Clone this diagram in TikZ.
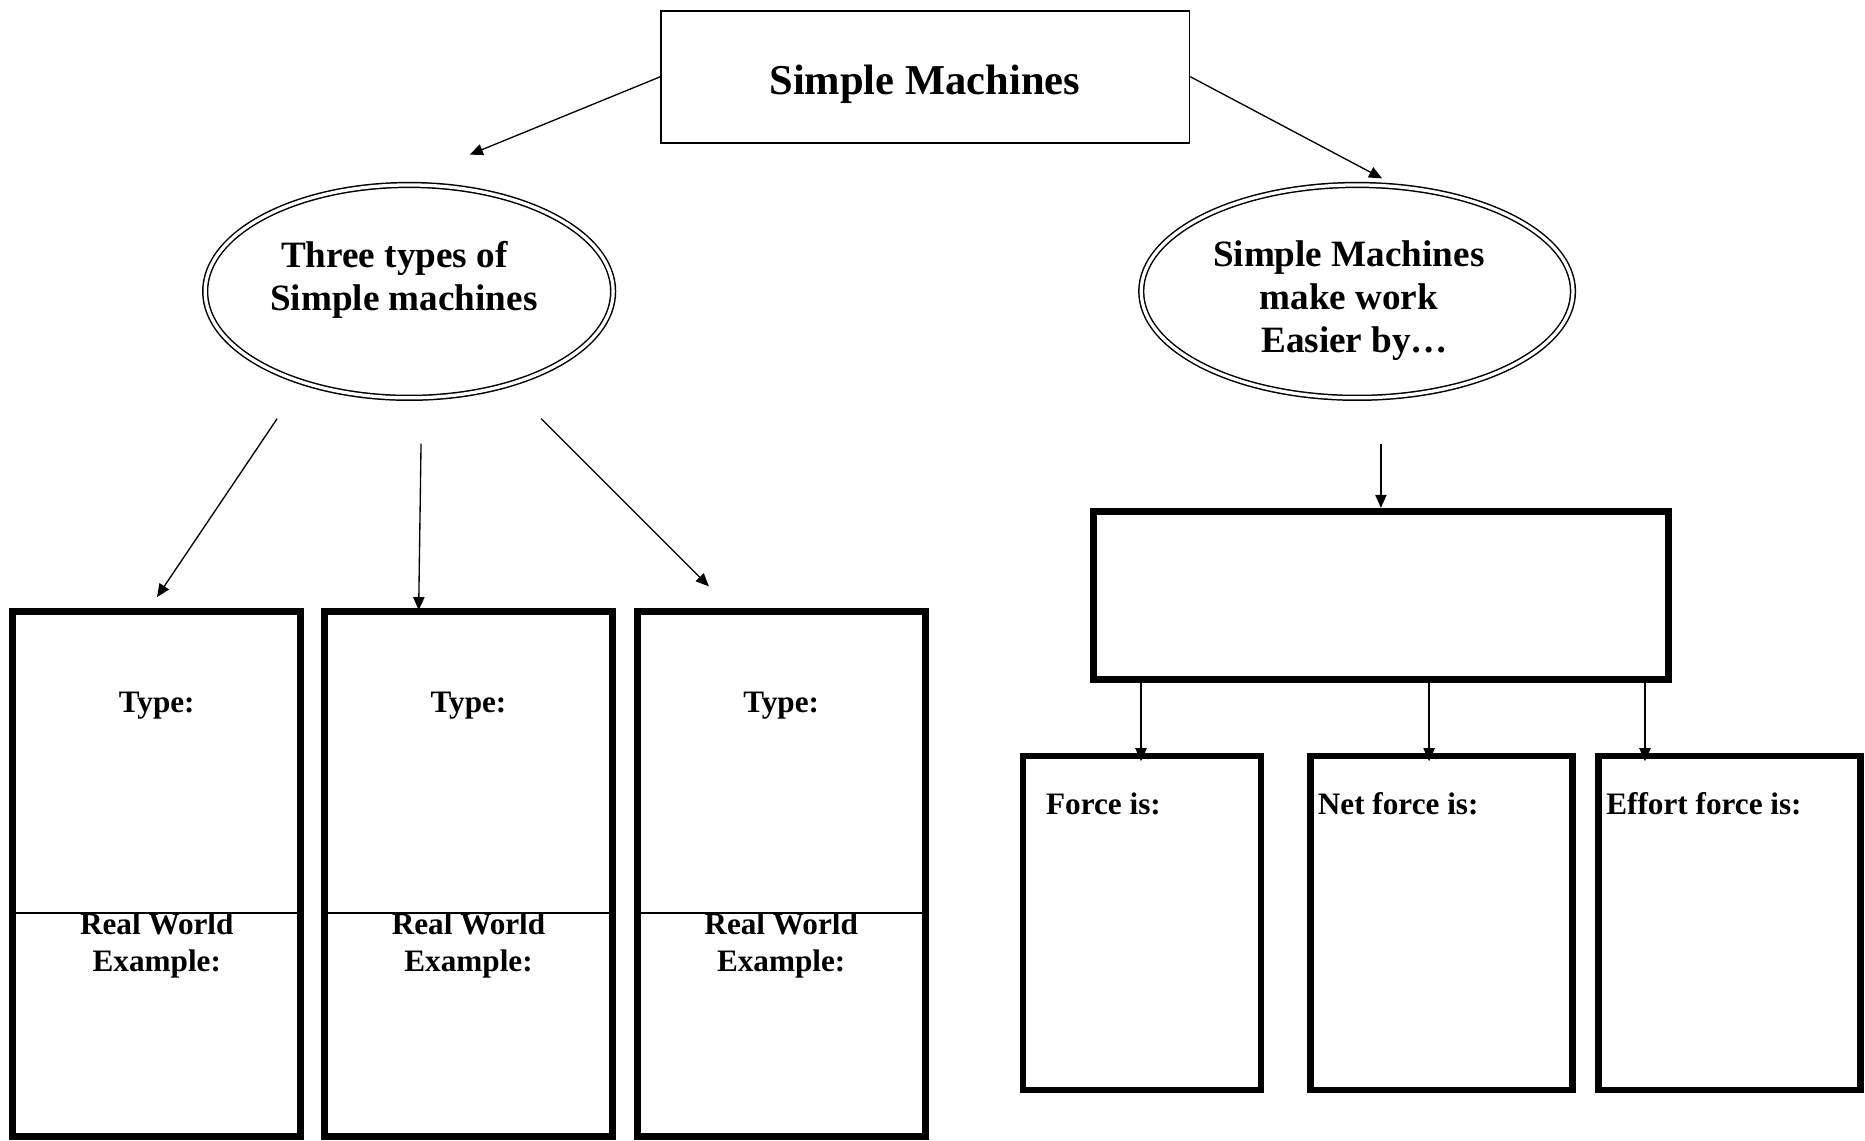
\documentclass[tikz,border=0pt]{standalone}
\usepackage{fontspec}
\setmainfont{Liberation Serif}
\usetikzlibrary{arrows.meta,shapes.geometric}
\begin{document}
\begin{tikzpicture}[x=0.4pt,y=-0.4pt,
  every node/.style={font=\bfseries},
  arr/.style={-{Triangle[length=4.4pt,width=3.8pt]}, line width=0.45pt},
  thinbox/.style={draw, line width=0.6pt, rectangle, inner sep=0pt},
  thickbox/.style={draw, line width=2.4pt, rectangle, inner sep=0pt},
  colbox/.style={thickbox, minimum width=96.8pt, minimum height=176.4pt},
  fbox/.style={draw, line width=2.2pt, rectangle, inner sep=0pt, minimum height=112.4pt},
  dell/.style={draw, ellipse, double, line width=0.5pt, double distance=1.1pt, inner sep=0pt},
  elltext/.style={align=center, font=\bfseries\fontsize{12.5}{14.4}\selectfont},
  smalltext/.style={align=center, font=\bfseries\fontsize{10.5}{12.4}\selectfont, inner sep=0pt},
  divider/.style={line width=0.5pt}
]
\useasboundingbox (0,0) rectangle (1568,959);

% top box
\node[thinbox, minimum width=177.6pt, minimum height=44.4pt] (top) at (778,64.5) {};
\node[font=\bfseries\fontsize{14.3}{17}\selectfont] (toptxt) at (777.5,71) {Simple Machines};

% ellipses
\node[dell, minimum width=137.2pt, minimum height=71.6pt] (ellL) at (344,245) {};
\node[elltext] (ellLtxt) at (335.5,235) {Three types of\hspace*{3.2pt}\\\hspace*{3.2pt}Simple machines};
\node[dell, minimum width=145.2pt, minimum height=71.6pt] (ellR) at (1141,245) {};
\node[elltext] (ellRtxt) at (1134,253) {Simple Machines\\make work\\\hspace*{4pt}Easier by\ldots};

% arrows from top box
\coordinate (tL) at (395,130);
\coordinate (tR) at (1162,150);
\draw[arr] (top.west) -- (tL);
\draw[arr] (top.east) -- (tR);

% left column boxes
\node[colbox] (b1) at (131.8,734.7) {};
\node[colbox] (b2) at (393.9,734.7) {};
\node[colbox] (b3) at (656.8,734.7) {};
\foreach \b in {b1,b2,b3}{
  \draw[divider] (\b.west |- 0,767.4) -- (\b.east |- 0,767.4);
}
\node[smalltext] (t1) at (131.8,593) {Type:};
\node[smalltext] (t2) at (393.9,593) {Type:};
\node[smalltext] (t3) at (656.8,593) {Type:};
\node[smalltext] (r1) at (131.8,795) {Real World\\Example:};
\node[smalltext] (r2) at (393.9,795) {Real World\\Example:};
\node[smalltext] (r3) at (656.8,795) {Real World\\Example:};

% arrows from left ellipse
\coordinate (s1) at (233,352);
\coordinate (e1) at (132,502);
\coordinate (s2) at (354,373);
\coordinate (e2) at (352,513);
\coordinate (s3) at (455,352);
\coordinate (e3) at (596,493);
\draw[arr] (s1) -- (e1);
\draw[arr] (s2) -- (e2);
\draw[arr] (s3) -- (e3);

% right side
\node[thickbox, minimum width=193.6pt, minimum height=56.4pt] (big) at (1161,500.5) {};
\coordinate (s4) at (1161,373);
\draw[arr] (s4) -- (big.north);

\node[fbox, minimum width=80pt] (fa) at (960,776) {};
\node[fbox, minimum width=88pt] (fb) at (1212,776) {};
\node[fbox, minimum width=88.2pt] (fc) at (1454,776) {};

\coordinate (ea) at (959.3,640);
\coordinate (eb) at (1201.5,640);
\coordinate (ec) at (1383,640);
\draw[arr] (big.south -| ea) -- (ea);
\draw[arr] (big.south -| eb) -- (eb);
\draw[arr] (big.south -| ec) -- (ec);

\node[smalltext, anchor=west] (fat) at (879,676) {Force is:};
\node[smalltext, anchor=west] (fbt) at (1107.5,676) {Net force is:};
\node[smalltext, anchor=west] (fct) at (1350,676) {Effort force is:};
\end{tikzpicture}
\end{document}
